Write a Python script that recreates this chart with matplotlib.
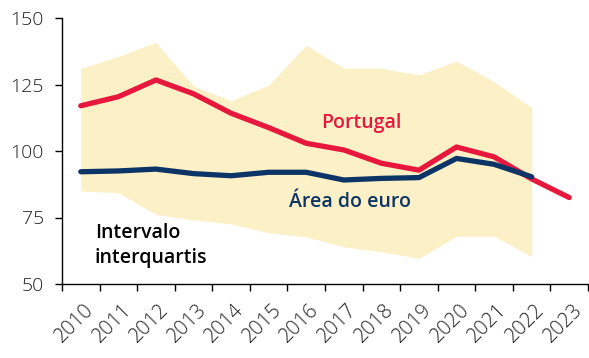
import matplotlib
matplotlib.use("Agg")
import matplotlib.pyplot as plt
import matplotlib.transforms as mtransforms
import numpy as np

plt.rcParams['font.family'] = ['Open Sans', 'DejaVu Sans']

years = [2010, 2011, 2012, 2013, 2014, 2015, 2016, 2017, 2018, 2019, 2020, 2021, 2022, 2023]
portugal = [117, 120.4, 126.7, 121.5, 114.2, 108.8, 102.9, 100.4, 95.4, 92.8, 101.5, 97.8, 89.5, 82.5]
euro_area = [92.2, 92.5, 93.2, 91.5, 90.7, 92.0, 92.0, 89.1, 89.7, 90.0, 97.2, 95.0, 90.3]
iq_upper = [131.1, 135.5, 140.9, 124.4, 118.9, 124.8, 139.8, 131.1, 131.1, 128.6, 133.8, 126.0, 116.3]
iq_lower = [85.0, 84.3, 76.2, 74.1, 72.6, 69.3, 67.7, 64.0, 62.1, 59.7, 68.0, 68.0, 60.3]
yticks = [50, 75, 100, 125, 150]

c_band = '#FBF0C6'
c_pt = '#E8173E'
c_ea = '#0D3466'

fig = plt.figure(figsize=(5.89, 3.58), dpi=100)
ax = fig.add_axes([62/589, 1-284/358, (588-62)/589, (284-18)/358])

x = np.arange(len(years))
xe = x[:len(euro_area)]
ax.fill_between(xe, iq_lower, iq_upper, color=c_band, linewidth=0, zorder=1)
ax.plot(xe, euro_area, color=c_ea, lw=3.8, solid_capstyle='round', solid_joinstyle='round', zorder=3)
ax.plot(x, portugal, color=c_pt, lw=3.8, solid_capstyle='round', solid_joinstyle='round', zorder=2)

ax.set_xlim(-0.5, len(years)-0.5)
ax.set_ylim(50, 150)
ax.set_yticks(yticks)
ax.set_yticklabels([str(v) for v in yticks], fontsize=14, color='#222222', fontweight='light')
ax.set_xticks(np.arange(len(years)+1)-0.5)
ax.set_xticklabels([])
ax.set_xticks(x, minor=True)
ax.set_xticklabels([str(y) for y in years], minor=True, rotation=45, ha='right', va='top',
                   rotation_mode='anchor', fontsize=14.5, color='#222222', fontweight='light')
ax.tick_params(axis='x', which='minor', length=0, pad=11.5)
ax.tick_params(axis='x', which='major', length=5, width=1, color='black')
ax.tick_params(axis='y', length=5, width=1, pad=8)
shift = mtransforms.ScaledTranslation(3/100, 0, fig.dpi_scale_trans)
for lbl in ax.get_xticklabels(minor=True):
    lbl.set_transform(lbl.get_transform() + shift)
for s in ['top', 'right']:
    ax.spines[s].set_visible(False)
for s in ['left', 'bottom']:
    ax.spines[s].set_linewidth(1)

fig.text(321/589, 1-128/358, 'Portugal', fontsize=14, color=c_pt, fontweight='semibold')
fig.text(289/589, 1-207/358, 'Área do euro', fontsize=14, color=c_ea, fontweight='semibold')
fig.text(95/589, 1-263/358, 'Intervalo\ninterquartis', fontsize=14, color='black',
         fontweight='semibold', linespacing=1.3, va='baseline')

fig.savefig('out.png', dpi=100)
